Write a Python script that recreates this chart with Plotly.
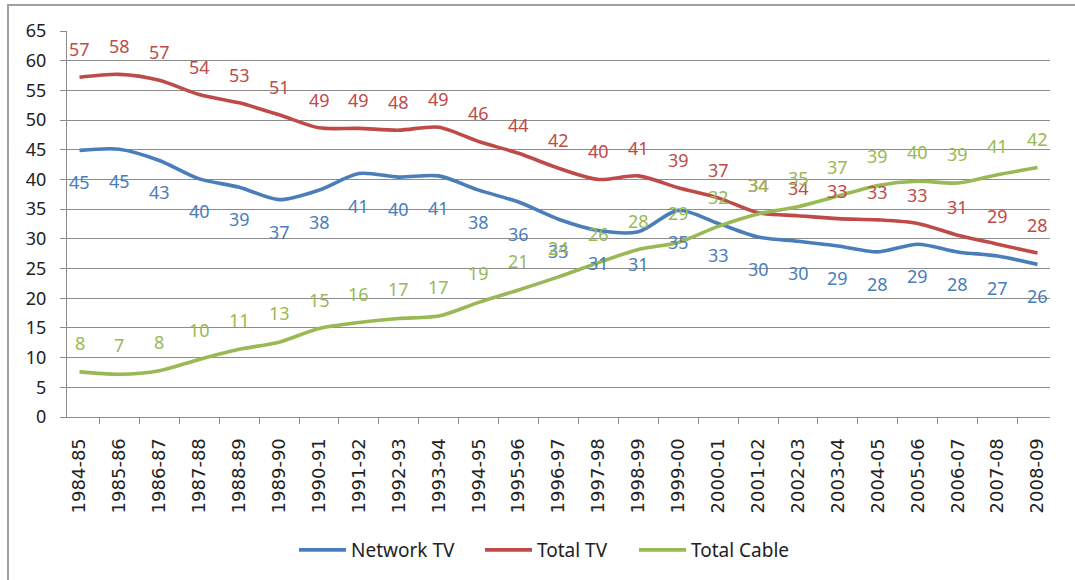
import plotly.graph_objects as go

seasons = ["1984-85", "1985-86", "1986-87", "1987-88", "1988-89", "1989-90", "1990-91",
           "1991-92", "1992-93", "1993-94", "1994-95", "1995-96", "1996-97", "1997-98",
           "1998-99", "1999-00", "2000-01", "2001-02", "2002-03", "2003-04", "2004-05",
           "2005-06", "2006-07", "2007-08", "2008-09"]

network_tv = [44.9, 45.1, 43.2, 40.1, 38.7, 36.6, 38.2, 41.0, 40.4, 40.6, 38.2, 36.2, 33.3,
              31.4, 31.2, 34.8, 32.6, 30.3, 29.6, 28.8, 27.8, 29.1, 27.8, 27.1, 25.7]
total_tv = [57.2, 57.7, 56.7, 54.3, 52.9, 50.9, 48.7, 48.6, 48.3, 48.8, 46.4, 44.4, 41.9,
            40.0, 40.6, 38.6, 36.9, 34.4, 33.9, 33.4, 33.2, 32.6, 30.6, 29.1, 27.6]
total_cable = [7.6, 7.2, 7.8, 9.7, 11.4, 12.6, 14.9, 15.9, 16.6, 17.0, 19.3, 21.4, 23.6,
               26.0, 28.2, 29.4, 32.1, 34.2, 35.4, 37.2, 39.0, 39.7, 39.4, 40.8, 42.0]

series = [
    ("Network TV", network_tv, "#4A7EBB", -32, "legend", 294),
    ("Total TV", total_tv, "#BE4B48", 28, "legend2", 480),
    ("Total Cable", total_cable, "#98B954", 29, "legend3", 634),
]

FONT = "Noto Sans, Open Sans, sans-serif"
XFONT = "DejaVu Sans, Noto Sans, sans-serif"

L, R, T, B = 67, 25, 31, 162
W, H = 1075, 580
pw, ph = W - L - R, H - T - B

fig = go.Figure()
annotations = []
legends = {}
for name, vals, color, shift, leg, lx in series:
    fig.add_trace(go.Scatter(
        x=seasons, y=vals, name=name, mode="lines", legend=leg,
        line=dict(color=color, width=3.6, shape="spline", smoothing=0.8),
    ))
    for s, v in zip(seasons, vals):
        annotations.append(dict(
            x=s, y=v, xref="x", yref="y", text=str(int(round(v))),
            showarrow=False, yshift=shift,
            font=dict(family=FONT, size=18, color=color),
        ))
    legends[leg] = dict(orientation="h", x=(lx - L) / pw, xanchor="left",
                        y=(418 - 550) / ph, yanchor="middle",
                        font=dict(family=FONT, size=19, color="#222222"),
                        itemwidth=47, bgcolor="rgba(0,0,0,0)")

fig.update_layout(
    width=W, height=H,
    margin=dict(l=L, r=R, t=T, b=B),
    paper_bgcolor="white", plot_bgcolor="white",
    font=dict(family=FONT, size=18, color="#222222"),
    annotations=annotations,
    showlegend=True,
    shapes=[dict(type="rect", xref="paper", yref="paper",
                 x0=(8 - L) / pw, x1=(W + 20 - L) / pw,
                 y0=(418 - (H + 20)) / ph, y1=(418 - 5) / ph,
                 line=dict(color="#a0a0a0", width=2), fillcolor="rgba(0,0,0,0)",
                 layer="below")],
    **legends,
)

fig.update_xaxes(
    type="category", tickangle=-90, tickson="boundaries",
    ticks="outside", ticklen=6, tickcolor="#8c8c8c",
    showline=True, linecolor="#8c8c8c", linewidth=1,
    showgrid=False, automargin=False, ticklabelstandoff=13,
    tickfont=dict(family=XFONT, size=18, color="#222222"),
)
fig.update_yaxes(
    range=[0, 65], dtick=5, tick0=0,
    ticks="outside", ticklen=6, tickcolor="#8c8c8c",
    showline=True, linecolor="#8c8c8c", linewidth=1,
    showgrid=True, gridcolor="#8c8c8c", gridwidth=1,
    zeroline=False, automargin=False, ticklabelstandoff=10,
    tickfont=dict(family=FONT, size=18, color="#222222"),
)

fig.write_html("out.html")
